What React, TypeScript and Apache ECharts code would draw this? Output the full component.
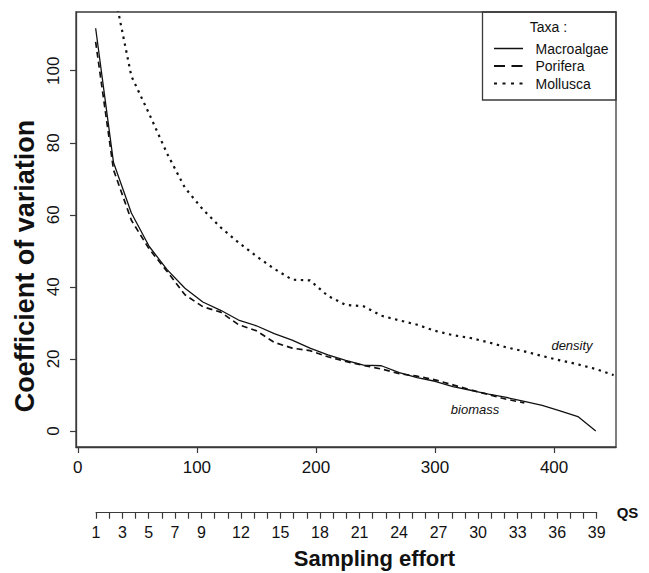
import { useEffect, useRef } from "react";
import * as echarts from "echarts";

// Sampling effort (x) for the biomass curves and for the density curve
const biomassEffort = [
  15, 30, 45, 60, 75, 90, 105, 120, 135, 150, 165, 180, 195, 210, 225, 240,
  255, 270, 285, 300, 315, 330, 345, 360, 375, 390, 405, 420, 435,
];
const densityEffort = [
  30, 45, 60, 75, 90, 105, 120, 135, 150, 165, 180, 195, 210, 225, 240, 255,
  270, 285, 300, 315, 330, 345, 360, 375, 390, 405, 420, 435, 450,
];

// Coefficient of variation per taxon
const macroalgae = [
  111.8, 74.5, 60.5, 51.2, 44.8, 39.6, 35.8, 33.5, 30.8, 29.2, 27.0, 25.2,
  23.0, 21.1, 19.6, 18.3, 18.1, 16.2, 14.8, 13.8, 12.3, 11.3, 10.2, 9.3, 8.2,
  7.1, 5.6, 4.0, 0.0,
];
const porifera = [
  108.0, 72.5, 58.5, 50.5, 44.3, 37.8, 34.5, 33.0, 29.5, 27.8, 24.6, 23.0,
  22.3, 20.6, 19.3, 18.2, 17.2, 15.9, 15.2, 14.2, 12.8, 11.4, 10.1, 8.8, 7.8,
];
const mollusca = [
  122.8, 98.5, 88.0, 77.0, 67.5, 61.5, 56.5, 52.3, 48.5, 45.0, 42.0, 41.8,
  37.5, 35.0, 34.6, 32.0, 30.7, 29.5, 27.8, 26.6, 25.8, 24.6, 23.2, 22.1,
  20.8, 19.6, 18.5, 17.2, 15.5,
];

// Axis ticks
const effortTicks = [0, 100, 200, 300, 400];
const cvTicks = [0, 20, 40, 60, 80, 100];
const qsLabels = [1, 3, 5, 7, 9, 12, 15, 18, 21, 24, 27, 30, 33, 36, 39];
const qsRange = [1, 39];

// Legend entries
const taxa = ["Macroalgae", "Porifera", "Mollusca"];

const FONT = "'Liberation Sans', Arial, Helvetica, sans-serif";
const INK = "#111";
const FRAME = "#3a3a3a";

const SOLID: number[] | null = null;
const DASHED = [6, 4];
const DOTTED = [2.4, 4.6];
const lineDash = [SOLID, DASHED, DOTTED];
const lineWidth = [1.3, 1.7, 2.2];
const legendDash = [null, [11, 6.5], [3, 5.5]];

const pairs = (xs: number[], ys: number[]) => ys.map((y, i) => [xs[i], y]);

export default function App() {
  const ref = useRef<HTMLDivElement>(null);

  useEffect(() => {
    if (!ref.current) return;
    const chart = echarts.init(ref.current, undefined, { renderer: "svg" });

    const tickStyle = { color: FRAME, width: 1.2 };
    const seriesData = [
      pairs(biomassEffort, macroalgae),
      pairs(biomassEffort, porifera),
      pairs(densityEffort, mollusca),
    ];

    const legendGraphics: any[] = [];
    taxa.forEach((name, i) => {
      const y = 48.5 + i * 17.5;
      legendGraphics.push({
        type: "line",
        shape: { x1: 494, y1: y, x2: 523, y2: y },
        style: {
          stroke: INK,
          lineWidth: i === 0 ? 1.5 : 1.8,
          lineDash: legendDash[i] || undefined,
        },
        silent: true,
      });
      legendGraphics.push({
        type: "text",
        x: 535.5,
        y,
        style: {
          text: name,
          fontSize: 14,
          fontFamily: FONT,
          fill: INK,
          textAlign: "left",
          textVerticalAlign: "middle",
        },
      });
    });

    chart.setOption({
      animation: false,
      backgroundColor: "#fff",
      textStyle: { fontFamily: FONT, color: INK },
      grid: [
        {
          left: 76,
          top: 12,
          width: 540,
          height: 435,
          show: true,
          borderColor: FRAME,
          borderWidth: 1.3,
          backgroundColor: "transparent",
        },
        { left: 96, top: 500, width: 500.7, height: 12.7 },
      ],
      xAxis: [
        {
          type: "value",
          gridIndex: 0,
          min: -1.5,
          max: 452,
          axisLine: { show: true, onZero: false, lineStyle: { color: FRAME, width: 1.3 } },
          splitLine: { show: false },
          axisTick: {
            show: true,
            inside: false,
            length: 6,
            customValues: effortTicks,
            lineStyle: tickStyle,
          },
          axisLabel: {
            customValues: effortTicks,
            fontSize: 17,
            color: INK,
            margin: 12,
            fontFamily: FONT,
          },
        },
        {
          type: "value",
          gridIndex: 1,
          min: qsRange[0],
          max: qsRange[1],
          interval: 1,
          position: "bottom",
          axisLine: { show: true, onZero: false, lineStyle: tickStyle },
          splitLine: { show: false },
          axisTick: { show: true, inside: false, length: 6, lineStyle: tickStyle },
          axisLabel: {
            customValues: qsLabels,
            fontSize: 16,
            color: INK,
            margin: 12,
            fontFamily: FONT,
          },
          name: "QS",
          nameLocation: "end",
          nameGap: 20,
          nameTextStyle: {
            fontWeight: "bold",
            fontSize: 15,
            color: INK,
            fontFamily: FONT,
            padding: [14, 0, 0, 0],
          },
        },
      ],
      yAxis: [
        {
          type: "value",
          gridIndex: 0,
          min: -4.45,
          max: 116.3,
          axisLine: { show: true, onZero: false, lineStyle: { color: FRAME, width: 1.3 } },
          splitLine: { show: false },
          axisTick: {
            show: true,
            inside: false,
            length: 6,
            customValues: cvTicks,
            lineStyle: tickStyle,
          },
          axisLabel: {
            customValues: cvTicks,
            rotate: 90,
            fontSize: 17,
            color: INK,
            margin: 14,
            fontFamily: FONT,
          },
        },
        { type: "value", gridIndex: 1, show: false, min: 0, max: 1 },
      ],
      series: taxa.map((name, i) => ({
        name,
        type: "line",
        xAxisIndex: 0,
        yAxisIndex: 0,
        data: seriesData[i],
        symbol: "none",
        clip: true,
        lineStyle: {
          color: INK,
          width: lineWidth[i],
          type: lineDash[i] || "solid",
        },
      })),
      graphic: [
        {
          type: "rect",
          shape: { x: 482.5, y: 12, width: 133.5, height: 88 },
          style: { fill: "transparent", stroke: FRAME, lineWidth: 1.3 },
          silent: true,
        },
        {
          type: "text",
          x: 548.5,
          y: 27,
          style: {
            text: "Taxa :",
            fontSize: 14,
            fontFamily: FONT,
            fill: INK,
            textAlign: "center",
            textVerticalAlign: "middle",
          },
        },
        ...legendGraphics,
        {
          type: "text",
          x: 572,
          y: 345,
          style: {
            text: "density",
            fontSize: 13,
            fontStyle: "italic",
            fontFamily: FONT,
            fill: INK,
            textAlign: "center",
            textVerticalAlign: "middle",
          },
        },
        {
          type: "text",
          x: 475,
          y: 409,
          style: {
            text: "biomass",
            fontSize: 13,
            fontStyle: "italic",
            fontFamily: FONT,
            fill: INK,
            textAlign: "center",
            textVerticalAlign: "middle",
          },
        },
        {
          type: "text",
          x: 25,
          y: 266,
          rotation: Math.PI / 2,
          style: {
            text: "Coefficient of variation",
            fontSize: 27,
            fontWeight: "bold",
            fontFamily: FONT,
            fill: INK,
            textAlign: "center",
            textVerticalAlign: "middle",
          },
        },
        {
          type: "text",
          x: 374.5,
          y: 558,
          style: {
            text: "Sampling effort",
            fontSize: 22,
            fontWeight: "bold",
            fontFamily: FONT,
            fill: INK,
            textAlign: "center",
            textVerticalAlign: "middle",
          },
        },
      ],
    });

    return () => chart.dispose();
  }, []);

  return (
    <div
      ref={ref}
      style={{ position: "absolute", left: 0, top: 0, width: 649, height: 573 }}
    />
  );
}
